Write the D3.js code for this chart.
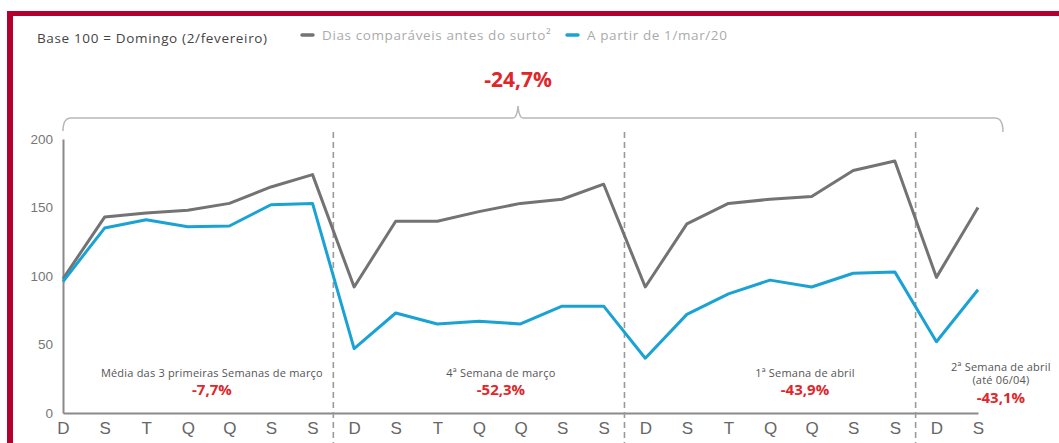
<!DOCTYPE html>
<html>
<head>
<meta charset="utf-8">
<script src="https://cdn.jsdelivr.net/npm/d3@7"></script>
<style>
  html, body { margin: 0; padding: 0; background: #fff; }
  svg { display: block; font-family: "Open Sans", "DejaVu Sans", sans-serif; }
</style>
</head>
<body>
<svg id="chart" width="1059" height="443"></svg>
<script>
// Day-of-week labels (D = domingo ... S = sábado), 23 days from 1/mar to 06/04
const dayLabels = ["D","S","T","Q","Q","S","S",
                   "D","S","T","Q","Q","S","S",
                   "D","S","T","Q","Q","S","S",
                   "D","S"];

// Index (base 100 = domingo 2/fevereiro): comparable days before the outbreak
const beforeOutbreak = [98, 143, 146, 148, 153, 165, 174,
                        92, 140, 140, 147, 153, 156, 167,
                        92, 138, 153, 156, 158, 177, 184,
                        99, 150];

// Index from 1/mar/20 onwards
const fromMarch = [96, 135, 141, 136, 136.5, 152, 153,
                   47, 73, 65, 67, 65, 78, 78,
                   40, 72, 87, 97, 92, 102, 103,
                   52, 90];

const yTicks = [0, 50, 100, 150, 200];

const seriesNames = ["Dias comparáveis antes do surto²", "A partir de 1/mar/20"];
const baseNote = "Base 100 = Domingo (2/fevereiro)";

// Weekly summaries
const periodTitles = [
  ["Média das 3 primeiras Semanas  de março"],
  ["4ª Semana de março"],
  ["1ª Semana de abril"],
  ["2ª Semana de abril", "(até 06/04)"]
];
const periodChanges = ["-7,7%", "-52,3%", "-43,9%", "-43,1%"];
const totalChange = "-24,7%";

// Week boundaries (between these day indices)
const weekBreaks = [6.5, 13.5, 20.5];

const colors = { before: "#737373", march: "#1ba2d4", red: "#e0262b", brand: "#b4002e", axis: "#8a8a8a" };

const svg = d3.select("#chart");

// Frame
svg.append("rect").attr("x", 7).attr("y", 11).attr("width", 1059 - 7).attr("height", 5).attr("fill", colors.brand);
svg.append("rect").attr("x", 7).attr("y", 11).attr("width", 6).attr("height", 443 - 11).attr("fill", colors.brand);

const x = d3.scaleLinear().domain([0, dayLabels.length - 1]).range([63, 978]);
const y = d3.scaleLinear().domain([0, 200]).range([413, 139]);
const step = x(1) - x(0);

// Axes
const yAxis = svg.append("g").attr("transform", `translate(${x(0)},0)`)
  .call(d3.axisLeft(y).tickValues(yTicks).tickSize(0).tickPadding(10));
yAxis.select(".domain").attr("stroke", colors.axis).attr("stroke-width", 2);
yAxis.selectAll("text").attr("fill", "#777").attr("font-size", 13.5);

const xAxis = svg.append("g").attr("transform", `translate(0,${y(0)})`)
  .call(d3.axisBottom(x).tickValues(d3.range(dayLabels.length)).tickFormat(i => dayLabels[i]).tickSize(0).tickPadding(9));
xAxis.select(".domain").attr("stroke", colors.axis).attr("stroke-width", 2);
xAxis.selectAll("text").attr("fill", "#666").attr("font-size", 17);

// Week separators
svg.selectAll("line.sep").data(weekBreaks).join("line")
  .attr("class", "sep")
  .attr("x1", d => x(d)).attr("x2", d => x(d))
  .attr("y1", 132).attr("y2", 443)
  .attr("stroke", "#9a9a9a").attr("stroke-width", 1.6)
  .attr("stroke-dasharray", "6,4");

// Series lines
const line = d3.line().x((d, i) => x(i)).y(d => y(d));
svg.append("path").datum(beforeOutbreak).attr("d", line)
  .attr("fill", "none").attr("stroke", colors.before).attr("stroke-width", 3).attr("stroke-linejoin", "round");
svg.append("path").datum(fromMarch).attr("d", line)
  .attr("fill", "none").attr("stroke", colors.march).attr("stroke-width", 3).attr("stroke-linejoin", "round");

// Bracket over the whole period
const bx0 = x(0), bx1 = x(dayLabels.length - 1) + step * 0.6, by = 118;
const bmid = x(10.94);
const bracket = d3.path();
bracket.moveTo(bx0, by + 13);
bracket.quadraticCurveTo(bx0, by, bx0 + 8, by);
bracket.lineTo(bmid - 5, by);
bracket.quadraticCurveTo(bmid - 1, by, bmid, by - 12);
bracket.quadraticCurveTo(bmid + 1, by, bmid + 5, by);
bracket.lineTo(bx1 - 8, by);
bracket.quadraticCurveTo(bx1, by, bx1, by + 14);
svg.append("path").attr("d", bracket.toString())
  .attr("fill", "none").attr("stroke", "#b8b8b8").attr("stroke-width", 1.5);

svg.append("text").attr("x", bmid).attr("y", 87).attr("text-anchor", "middle")
  .attr("font-size", 21).attr("font-weight", 700).attr("fill", colors.red).text(totalChange);

// Weekly annotations
const labelAnchors = [3.58, 10.53, 17.84, 22.55];
const labelTops = [373, 373, 373, 367];
periodTitles.forEach((lines, k) => {
  const g = svg.append("g");
  lines.forEach((t, j) => {
    g.append("text").attr("x", x(labelAnchors[k])).attr("y", labelTops[k] + 4 + j * 13)
      .attr("text-anchor", "middle").attr("font-size", 11).attr("letter-spacing", 0.2)
      .attr("fill", "#555").text(t);
  });
  g.append("text").attr("x", x(labelAnchors[k])).attr("y", labelTops[k] + 22 + (lines.length - 1) * 14)
    .attr("text-anchor", "middle").attr("font-size", 15).attr("font-weight", 700)
    .attr("fill", colors.red).text(periodChanges[k]);
});

// Legend
svg.append("text").attr("x", 37).attr("y", 43).attr("font-size", 13.5).attr("letter-spacing", 0.65)
  .attr("fill", "#444").text(baseNote);
const legend = [
  { name: seriesNames[0], color: colors.before, x: 302 },
  { name: seriesNames[1], color: colors.march, x: 567 }
];
legend.forEach(d => {
  svg.append("line").attr("x1", d.x).attr("x2", d.x + 11).attr("y1", 35).attr("y2", 35)
    .attr("stroke", d.color).attr("stroke-width", 3.5).attr("stroke-linecap", "round");
  svg.append("text").attr("x", d.x + 20).attr("y", 40).attr("font-size", 13.5).attr("letter-spacing", 0.6)
    .attr("fill", "#ababab").text(d.name);
});
</script>
</body>
</html>
